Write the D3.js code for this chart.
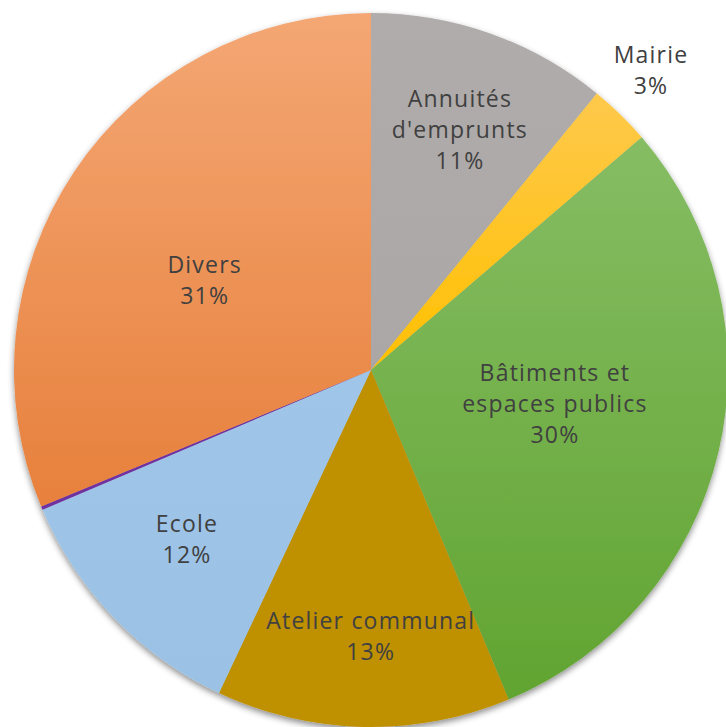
<!DOCTYPE html>
<html>
<head>
<meta charset="utf-8">
<script src="https://cdn.jsdelivr.net/npm/d3@7"></script>
<style>
  html, body { margin: 0; padding: 0; background: #fff; }
  svg { display: block; }
</style>
</head>
<body>
<svg id="chart"></svg>
<script>
// Données (en % du total)
const categories = ["Annuités d'emprunts", "Mairie", "Bâtiments et espaces publics", "Atelier communal", "Ecole", "", "Divers"];
const values = [10.9, 2.8, 30.0, 13.3, 11.6, 0.15, 31.25];
const labelLines = [["Annuités", "d'emprunts", "11%"], ["Mairie", "3%"], ["Bâtiments et", "espaces publics", "30%"], ["Atelier communal", "13%"], ["Ecole", "12%"], [], ["Divers", "31%"]];

// Couleurs (haut, bas du dégradé)
const colorsTop = ["#b0acab", "#fec94c", "#86bd64", "#bf9000", "#9fc5e8", "#7030a0", "#f4a774"];
const colorsBottom = ["#aba7a6", "#ffc000", "#61a431", "#bf9000", "#9bc2e5", "#7030a0", "#e7803c"];

// Placement des étiquettes : rayon et décalage d'angle (degrés)
const labelRadius = [256, 410, 187, 266, 250, 0, 189];
const labelTurn = [0.7, -1.2, -2.9, -1.2, 1.3, 0, -5.4];

const width = 726;
const height = 727;
const cx = 371, cy = 370, radius = 357;

const svg = d3.select("#chart")
  .attr("width", width)
  .attr("height", height);

const defs = svg.append("defs");

// Ombre portée
const shadow = defs.append("filter")
  .attr("id", "shadow")
  .attr("x", "-10%").attr("y", "-10%")
  .attr("width", "120%").attr("height", "120%");
shadow.append("feDropShadow")
  .attr("dx", 0).attr("dy", 3)
  .attr("stdDeviation", 3)
  .attr("flood-color", "#000")
  .attr("flood-opacity", 0.45);

// Dégradés par secteur
values.forEach((v, i) => {
  const g = defs.append("linearGradient")
    .attr("id", "grad" + i)
    .attr("x1", 0).attr("y1", 0).attr("x2", 0).attr("y2", 1);
  g.append("stop").attr("offset", "0%").attr("stop-color", colorsTop[i]);
  g.append("stop").attr("offset", "100%").attr("stop-color", colorsBottom[i]);
});

const pie = d3.pie()
  .sort(null)
  .value(d => d);

const arcs = pie(values);

const arc = d3.arc()
  .innerRadius(0)
  .outerRadius(radius);

const g = svg.append("g")
  .attr("transform", `translate(${cx},${cy})`);

// Secteurs avec ombre
g.append("g")
  .attr("filter", "url(#shadow)")
  .selectAll("path")
  .data(arcs)
  .join("path")
  .attr("d", arc)
  .attr("fill", (d, i) => `url(#grad${i})`);

// Étiquettes
g.selectAll("text.label")
  .data(arcs.filter((d, i) => labelLines[i].length))
  .join("text")
  .attr("class", "label")
  .attr("font-family", "Open Sans, sans-serif")
  .attr("font-size", 23)
  .attr("letter-spacing", 1.2)
  .attr("fill", "#404040")
  .attr("text-anchor", "middle")
  .each(function (d) {
    const i = d.index;
    const a = (d.startAngle + d.endAngle) / 2 + labelTurn[i] * Math.PI / 180;
    const r = labelRadius[i];
    const x = r * Math.sin(a);
    const y = -r * Math.cos(a);
    const lines = labelLines[i];
    const lh = 31;
    const y0 = y - (lines.length - 1) * lh / 2;
    d3.select(this).selectAll("tspan")
      .data(lines)
      .join("tspan")
      .attr("x", x)
      .attr("y", (t, k) => y0 + k * lh)
      .attr("dy", "0.35em")
      .text(t => t);
  });
</script>
</body>
</html>
